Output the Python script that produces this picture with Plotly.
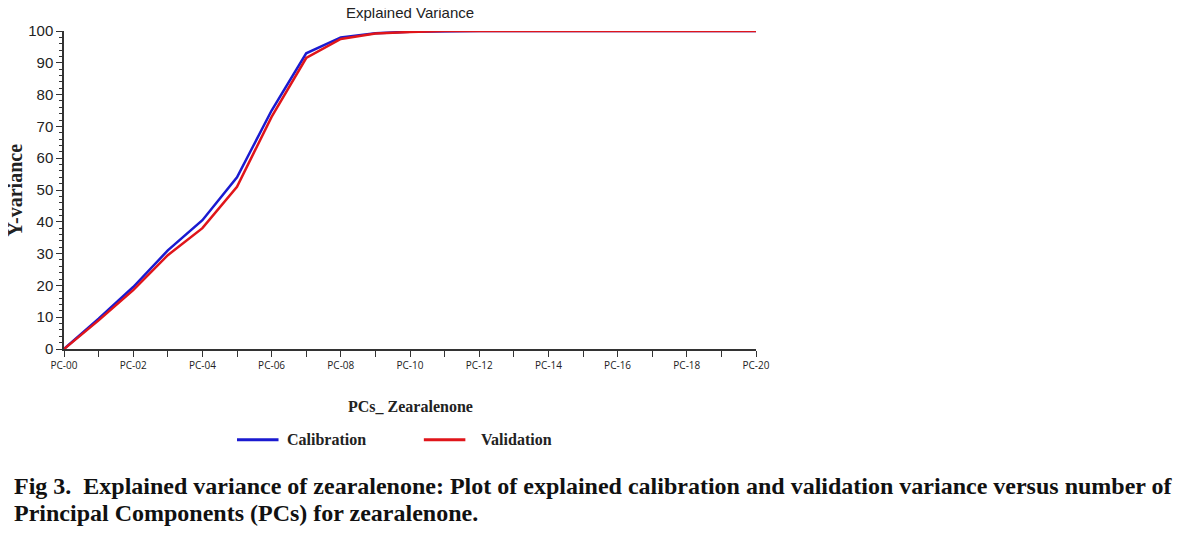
import plotly.graph_objects as go

pcs = list(range(21))
calibration = [0, 9.5, 19.5, 31, 40.5, 54, 75, 93, 98, 99.3, 99.8, 100, 100, 100, 100, 100, 100, 100, 100, 100, 100]
validation = [0, 9, 18.5, 29.5, 38, 51, 73, 91.5, 97.5, 99.2, 99.7, 100, 100, 100, 100, 100, 100, 100, 100, 100, 100]
tick_vals = list(range(0, 21, 2))
tick_text = ["PC-%02d" % v for v in tick_vals]

serif = "Liberation Serif"
fig = go.Figure()
fig.add_trace(go.Scatter(x=pcs, y=calibration, mode="lines", name="Calibration",
                         line=dict(color="#1a1ad0", width=2.5)))
fig.add_trace(go.Scatter(x=pcs, y=validation, mode="lines", name="Validation",
                         line=dict(color="#e0151a", width=2.5)))

fig.update_layout(
    width=1200, height=533,
    margin=dict(l=56, r=452, t=23, b=192),
    plot_bgcolor="white", paper_bgcolor="white",
    showlegend=False,
    xaxis=dict(range=[0, 20], tickvals=tick_vals, ticktext=tick_text,
               showgrid=False, zeroline=False, showline=True, linecolor="#333", linewidth=1.5,
               ticks="outside", ticklen=6, tickcolor="#333",
               minor=dict(tickvals=list(range(1, 20, 2)), ticks="outside", ticklen=6, tickcolor="#333"),
               tickfont=dict(family="Open Sans", size=10, color="#222")),
    yaxis=dict(range=[0, 100], dtick=10, showgrid=False, zeroline=False,
               showline=True, linecolor="#333", linewidth=1.5,
               ticks="outside", ticklen=6, tickcolor="#333",
               minor=dict(dtick=2, ticks="outside", ticklen=3, tickcolor="#333"),
               tickfont=dict(family="Liberation Sans", size=15, color="#222")),
    font=dict(family=serif, color="#222"),
)

ann = [
    dict(text="Explained Variance", x=0.5, y=1.0, yanchor="bottom", yshift=8,
         font=dict(family="Liberation Sans", size=15)),
    dict(text="<b>Y-variance</b>", x=-0.07, y=0.5, textangle=-90, xshift=-14,
         font=dict(family=serif, size=20)),
    dict(text="<b>PCs_ Zearalenone</b>", x=0.5, y=-0.18, yanchor="middle",
         font=dict(family=serif, size=16)),
    dict(text="<b>Calibration</b>", x=0.32, y=-0.285, yanchor="middle", xanchor="left",
         font=dict(family=serif, size=16)),
    dict(text="<b>Validation</b>", x=0.60, y=-0.285, yanchor="middle", xanchor="left",
         font=dict(family=serif, size=16)),
]
for a in ann:
    fig.add_annotation(xref="paper", yref="paper", showarrow=False, **a)

# legend samples
fig.add_shape(type="line", xref="paper", yref="paper", x0=0.25, x1=0.31, y0=-0.285, y1=-0.285,
              line=dict(color="#1a1ad0", width=3))
fig.add_shape(type="line", xref="paper", yref="paper", x0=0.52, x1=0.58, y0=-0.285, y1=-0.285,
              line=dict(color="#e0151a", width=3))

# caption
fig.add_annotation(xref="paper", yref="paper", x=-0.075, y=-0.432, xanchor="left", yanchor="middle",
                   showarrow=False, align="left",
                   text="<b>Fig 3.  Explained variance of zearalenone: Plot of explained calibration and validation variance versus number of</b>",
                   font=dict(family=serif, size=24, color="#111"))
fig.add_annotation(xref="paper", yref="paper", x=-0.075, y=-0.517, xanchor="left", yanchor="middle",
                   showarrow=False, align="left",
                   text="<b>Principal Components (PCs) for zearalenone.</b>",
                   font=dict(family=serif, size=24, color="#111"))

fig.write_html("out.html")
